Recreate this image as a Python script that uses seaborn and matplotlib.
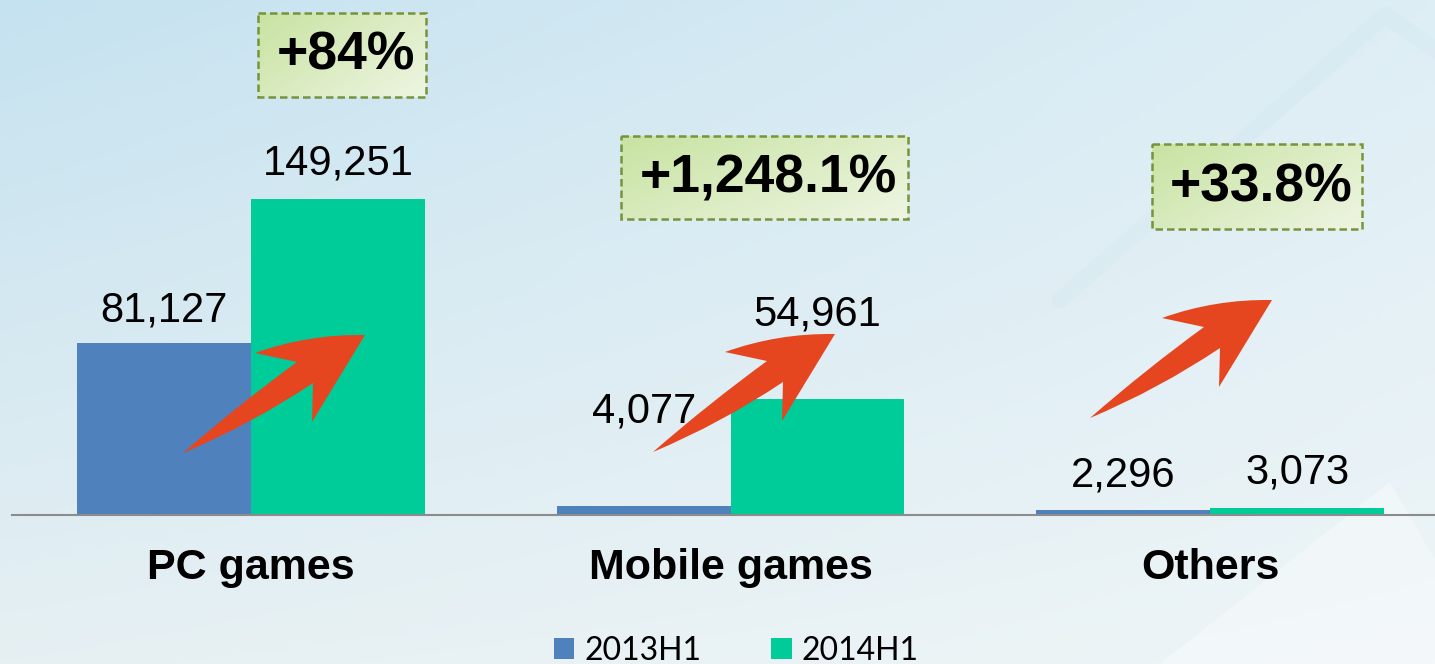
import numpy as np
import pandas as pd
import matplotlib
matplotlib.use("Agg")
import matplotlib.pyplot as plt
import seaborn as sns
from matplotlib.path import Path
from matplotlib.patches import PathPatch, Rectangle, Polygon

# data
categories = ["PC games", "Mobile games", "Others"]
periods = ["2013H1", "2014H1"]
values_2013 = [81127, 4077, 2296]
values_2014 = [149251, 54961, 3073]
growth_labels = ["+84%", "+1,248.1%", "+33.8%"]

colors = ["#4f81bd", "#00cc99"]

df = pd.DataFrame({
    "category": categories * 2,
    "period": [periods[0]] * 3 + [periods[1]] * 3,
    "value": values_2013 + values_2014,
})

W, H = 1435, 664
sns.set_theme(style="white")
plt.rcParams["font.family"] = ["Liberation Sans", "DejaVu Sans"]

fig = plt.figure(figsize=(W / 100, H / 100), dpi=100)

# background gradient
ax_bg = fig.add_axes([0, 0, 1, 1], zorder=-2)
yy, xx = np.mgrid[0:1:200j, 0:1:400j]
tl = np.array([197, 226, 240]) / 255
tr = np.array([222, 238, 245]) / 255
bl = np.array([230, 240, 243]) / 255
br = np.array([238, 245, 247]) / 255
img = (tl * ((1 - xx) * (1 - yy))[..., None] + tr * (xx * (1 - yy))[..., None]
       + bl * ((1 - xx) * yy)[..., None] + br * (xx * yy)[..., None])
ax_bg.imshow(img, extent=(0, W, H, 0), aspect="auto")
ax_bg.set_xlim(0, W)
ax_bg.set_ylim(H, 0)
ax_bg.plot([1060, 1300, 1385, 1435], [300, 90, 15, 50], color="#d3e8f0", lw=12,
           alpha=0.4, solid_capstyle="round", solid_joinstyle="round")
ax_bg.add_patch(Polygon([(1160, 664), (1390, 482), (1435, 560), (1435, 664)],
                        closed=True, color="white", alpha=0.35, lw=0))
ax_bg.axis("off")

# main bars
ax = fig.add_axes([12 / W, 1 - 515 / H, 1 - 12 / W, 515 / H])
ax.patch.set_alpha(0)
sns.barplot(data=df, x="category", y="value", hue="period", palette=colors,
            width=0.725, gap=0, saturation=1, linewidth=0, edgecolor="none", ax=ax)
handles, labels = ax.get_legend_handles_labels()
ax.get_legend().remove()

ax.set_xlim(-0.4984, 2.469)
ax.set_ylim(0, 243340)
for s in ["left", "top", "right"]:
    ax.spines[s].set_visible(False)
ax.spines["bottom"].set_color("#8c8c8c")
ax.spines["bottom"].set_linewidth(1.5)
ax.set_yticks([])
ax.set_xlabel("")
ax.set_ylabel("")
ax.tick_params(axis="x", length=0, pad=24)
for lbl in ax.get_xticklabels():
    lbl.set_fontsize(31)
    lbl.set_fontweight("bold")
    lbl.set_color("black")

# value labels (offsets in pixels above the bar top)
offs = [[33, 95, 35], [36, 84, 36]]
for cont, off in zip(ax.containers, offs):
    for bar, o in zip(cont, off):
        ax.annotate(f"{int(bar.get_height()):,}",
                    (bar.get_x() + bar.get_width() / 2, bar.get_height()),
                    xytext=(0, o), textcoords="offset pixels",
                    ha="center", va="center", fontsize=30, color="black")

# overlay: growth boxes and arrows
ov = fig.add_axes([0, 0, 1, 1], zorder=5)
ov.patch.set_alpha(0)

boxes = [(258, 13, 426, 97), (621, 136, 908, 219), (1152, 144, 1362, 229)]
gy, gx = np.mgrid[0:1:50j, 0:1:100j]
t = (0.6 * gx + 0.4 * gy)[..., None]
c0 = np.array([200, 227, 162]) / 255
c1 = np.array([238, 245, 226]) / 255
box_img = c0 * (1 - t) + c1 * t
for (x0, y0, x1, y1), txt in zip(boxes, growth_labels):
    ov.imshow(box_img, extent=(x0, x1, y1, y0), aspect="auto", zorder=1)
    ov.add_patch(Rectangle((x0, y0), x1 - x0, y1 - y0, fill=False,
                           edgecolor="#77933c", lw=1.8,
                           linestyle=(0, (3, 1.6)), zorder=2))
    ov.text((x0 + x1) / 2 + 4, (y0 + y1) / 2 + 1, txt, ha="center", va="center",
            fontsize=38.5, fontweight="bold", color="black", zorder=3)

arrow_verts = [(0, 0), (55, -48), (114, -91), (72, -100), (125, -119), (182, -118),
               (129, -31), (130, -70), (69, -29), (0, 0), (0, 0)]
arrow_codes = [Path.MOVETO, Path.CURVE3, Path.CURVE3, Path.LINETO, Path.CURVE3,
               Path.CURVE3, Path.LINETO, Path.LINETO, Path.CURVE3, Path.CURVE3,
               Path.CLOSEPOLY]
tails = [(183, 453), (653, 452), (1090, 418)]
for tx, ty in tails:
    verts = [(tx + dx, ty + dy) for dx, dy in arrow_verts]
    ov.add_patch(PathPatch(Path(verts, arrow_codes), facecolor="#e5461f",
                           edgecolor="none", zorder=4))

ov.set_xlim(0, W)
ov.set_ylim(H, 0)
ov.axis("off")

fig.legend(handles, labels, loc="center", bbox_to_anchor=(0.513, 0.0196), ncol=2,
           frameon=False, prop={"family": "Lato", "size": 23}, labelcolor="black",
           handlelength=0.65, handleheight=0.65, handletextpad=0.3,
           columnspacing=2.2)

fig.savefig("out.png", dpi=100)
